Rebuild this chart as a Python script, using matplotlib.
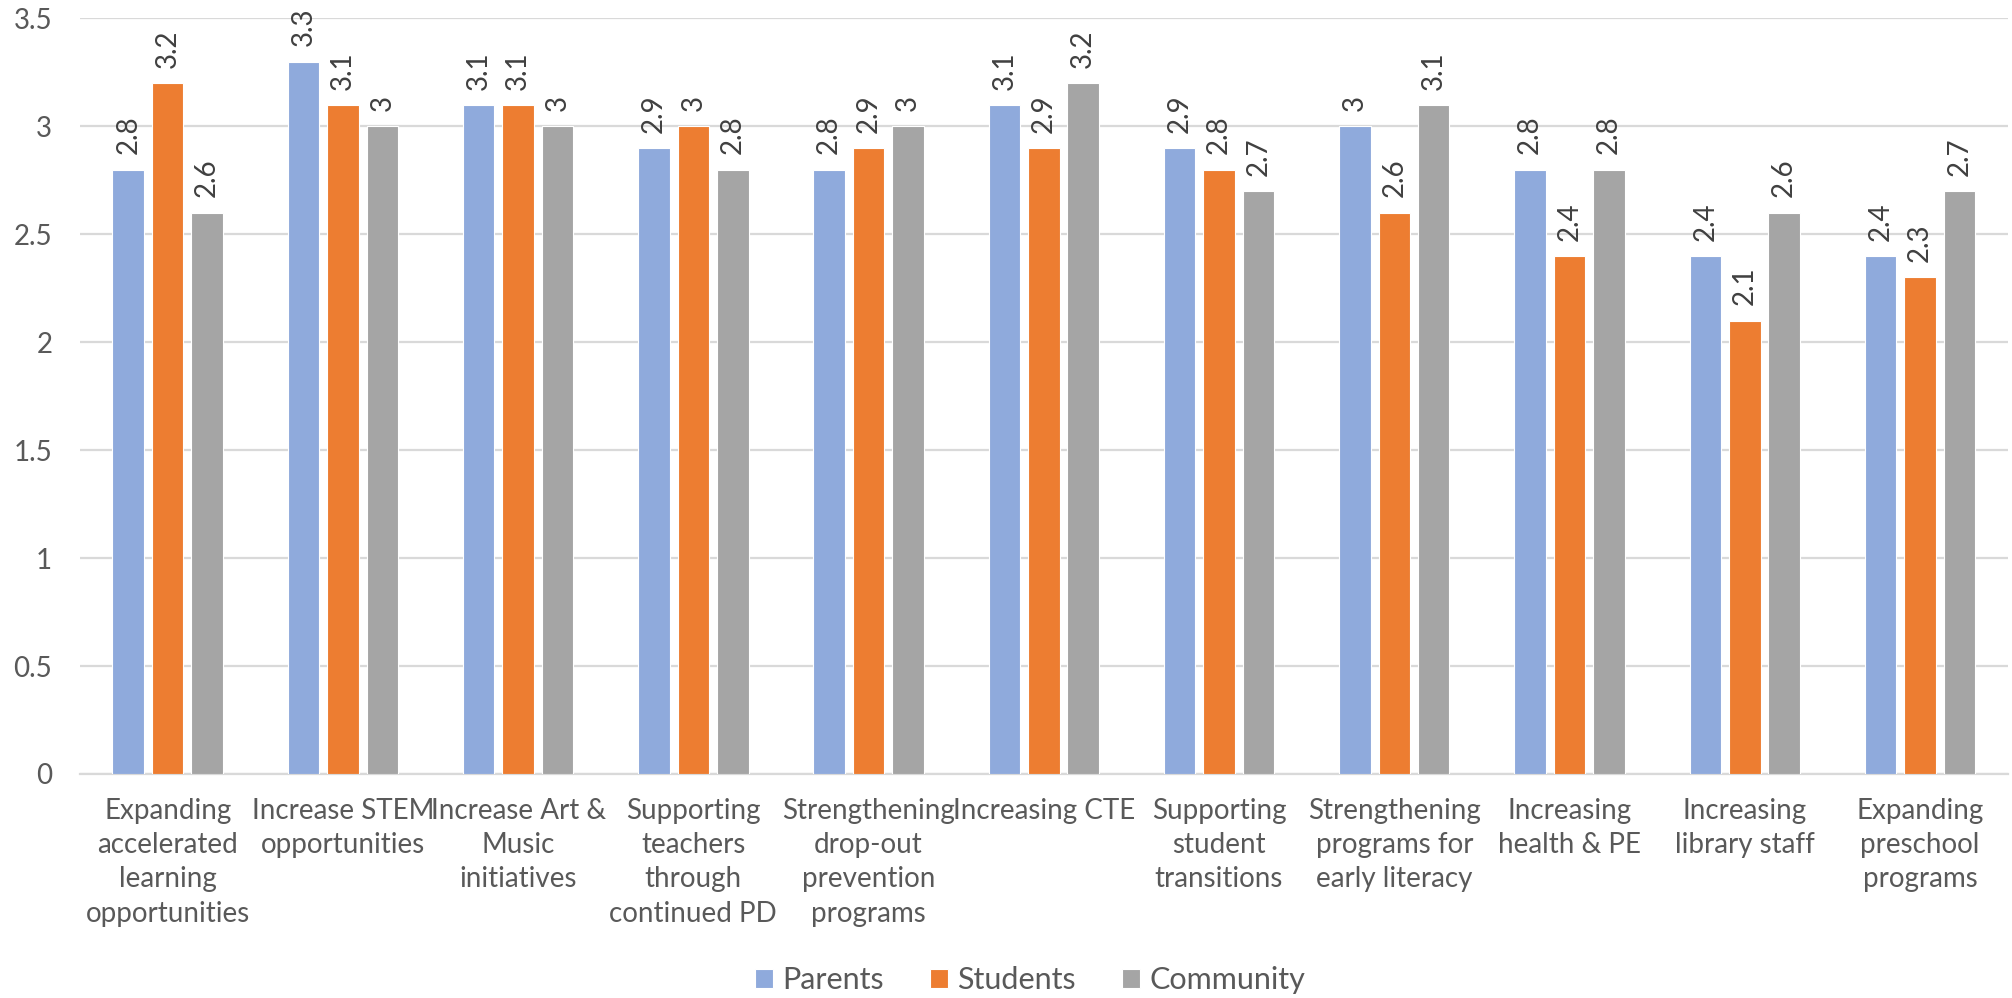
import matplotlib
matplotlib.use("Agg")
import matplotlib.pyplot as plt
import numpy as np

plt.rcParams['font.family'] = ['Lato', 'DejaVu Sans']

# Average rating per initiative, by respondent group
categories = ["Expanding\naccelerated\nlearning\nopportunities",
              "Increase STEM\nopportunities",
              "Increase Art &\nMusic\ninitiatives",
              "Supporting\nteachers\nthrough\ncontinued PD",
              "Strengthening\ndrop-out\nprevention\nprograms",
              "Increasing CTE",
              "Supporting\nstudent\ntransitions",
              "Strengthening\nprograms for\nearly literacy",
              "Increasing\nhealth & PE",
              "Increasing\nlibrary staff",
              "Expanding\npreschool\nprograms"]
parents = [2.8, 3.3, 3.1, 2.9, 2.8, 3.1, 2.9, 3.0, 2.8, 2.4, 2.4]
students = [3.2, 3.1, 3.1, 3.0, 2.9, 2.9, 2.8, 2.6, 2.4, 2.1, 2.3]
community = [2.6, 3.0, 3.0, 2.8, 3.0, 3.2, 2.7, 3.1, 2.8, 2.6, 2.7]
series_names = ["Parents", "Students", "Community"]
colors = ["#8FAADC", "#ED7D31", "#A5A5A5"]

fig = plt.figure(figsize=(20.12, 9.98), dpi=100)
ax = fig.add_axes([0.0398, 0.2245, 0.958, 0.7570])

x = np.arange(len(categories))
width = 0.18
step = 0.225
text_col = "#595959"

for i, (vals, name, col) in enumerate(zip([parents, students, community], series_names, colors)):
    pos = x + (i - 1) * step
    bars = ax.bar(pos, vals, width, color=col, label=name, edgecolor="white", linewidth=0.8, zorder=3)
    for b, v in zip(bars, vals):
        ax.annotate('{:g}'.format(v), (b.get_x() + b.get_width() / 2, v),
                    xytext=(0, 11), textcoords="offset points",
                    rotation=90, ha="center", va="bottom",
                    fontsize=20, color="#404040")

ax.set_ylim(0, 3.5)
ax.set_xlim(-0.5, len(categories) - 0.5)
ax.set_yticks(np.arange(0, 3.51, 0.5))
ax.set_yticklabels(['{:g}'.format(t) for t in np.arange(0, 3.51, 0.5)])
ax.set_xticks(x)
ax.set_xticklabels(categories, linespacing=1.4)
ax.tick_params(axis="both", length=0, labelsize=20, colors=text_col)
ax.tick_params(axis="x", pad=17)
ax.tick_params(axis="y", pad=20)
ax.grid(axis="y", color="#D9D9D9", linewidth=1.6, zorder=0)
for s in ["top", "right", "left"]:
    ax.spines[s].set_visible(False)
ax.spines["bottom"].set_color("#D9D9D9")
ax.spines["bottom"].set_linewidth(1.6)

fig.legend(loc="center", bbox_to_anchor=(0.512, 0.018), ncol=3, frameon=False,
           fontsize=22, labelcolor=text_col, handlelength=0.6, handleheight=0.6,
           handletextpad=0.3, columnspacing=1.5)

fig.savefig("out.png", dpi=100)
